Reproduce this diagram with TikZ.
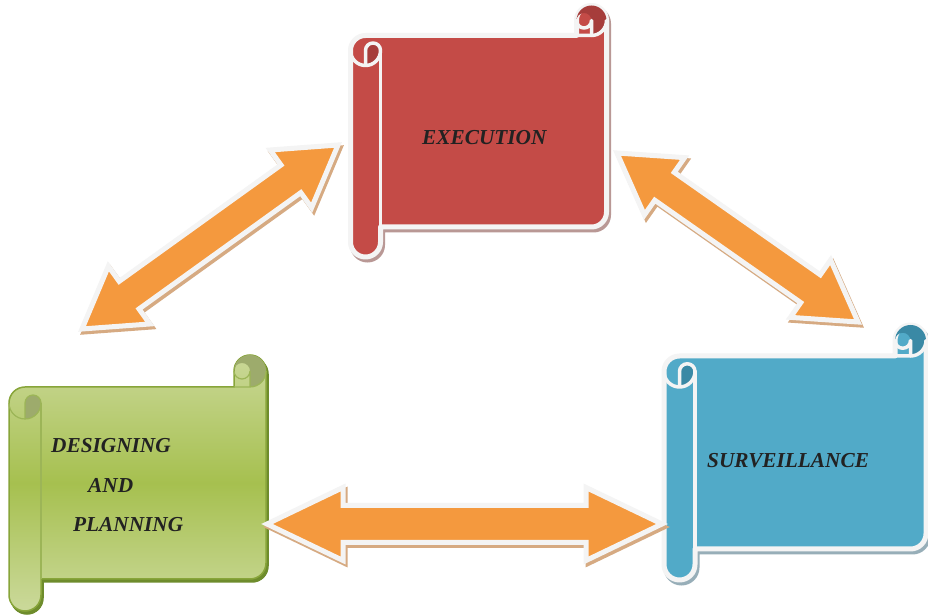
\documentclass[tikz,border=0pt]{standalone}
\usepackage{fontspec}
\setmainfont{Liberation Serif}
\usetikzlibrary{calc}

\definecolor{redmain}{HTML}{C44B47}
\definecolor{reddark}{HTML}{A63D3B}
\definecolor{redshade}{HTML}{B99895}
\definecolor{bluemain}{HTML}{51AAC8}
\definecolor{bluedark}{HTML}{3A89A5}
\definecolor{blueshade}{HTML}{97AEB8}
\definecolor{greentop}{HTML}{CBD99B}
\definecolor{greenmid}{HTML}{A6C04F}
\definecolor{greenbot}{HTML}{CAD898}
\definecolor{greendark}{HTML}{9DAB6C}
\definecolor{greenedge}{HTML}{88A53A}
\definecolor{greenshade}{HTML}{6E8C2C}
\definecolor{rim}{HTML}{F4F4F4}
\definecolor{arroworange}{HTML}{F4993E}
\definecolor{arrowshade}{HTML}{D6AA82}
\definecolor{labelink}{HTML}{222222}

\tikzset{
  red shadow/.style={fill=redshade, draw=redshade, line width=5pt},
  red body/.style={fill=redmain, draw=rim, line width=5pt, line join=round},
  red dark/.style={fill=reddark},
  red line/.style={draw=rim, line width=3.5pt, line cap=round, line join=round},
  blue shadow/.style={fill=blueshade, draw=blueshade, line width=5pt},
  blue body/.style={fill=bluemain, draw=rim, line width=5pt, line join=round},
  blue dark/.style={fill=bluedark},
  blue line/.style={draw=rim, line width=3.5pt, line cap=round, line join=round},
  green shadow/.style={fill=greenshade, draw=greenshade, line width=1.5pt},
  green body/.style={top color=greenbot, bottom color=greentop, middle color=greenmid,
                     draw=greenedge, line width=1.5pt},
  green dark/.style={fill=greendark},
  green line/.style={draw=greenedge!70!greentop, line width=1.2pt},
  arrow shadow/.style={fill=arrowshade, draw=arrowshade, line width=5pt},
  arrow body/.style={fill=arroworange, draw=rim, line width=5pt, line join=miter},
  label/.style={font=\fontsize{21.3}{25}\selectfont\bfseries\itshape, text=labelink,
                inner sep=0pt, anchor=base west},
}

% Scroll banner: #1 name, #2 left, #3 top, #4 right, #5 bottom (y measured downward),
% #6 roll size, #7 colour scheme
\newcommand\scrollbanner[7]{%
  \begin{scope}[shift={(#2,615-#3)}, yscale=-1]
    \pgfmathsetmacro\sW{#4-#2}\pgfmathsetmacro\sH{#5-#3}
    \pgfmathsetmacro\sc{#6}\pgfmathsetmacro\scb{#6/2}\pgfmathsetmacro\scd{#6/4}
    \pgfmathsetmacro\sxa{\sW-\sc}\pgfmathsetmacro\sxb{\sW-\scb}
    \pgfmathsetmacro\sya{1.5*\sc}\pgfmathsetmacro\syb{2*\sc}
    \pgfmathsetmacro\syc{\sH-1.5*\sc}\pgfmathsetmacro\syd{\sH-\sc}\pgfmathsetmacro\sye{\sH-\scb}
    \def\silhouette{(0,\sya) arc[start angle=180,end angle=270,radius=\scb]
      -- (\sxa,\sc) -- (\sxa,\scb) arc[start angle=180,end angle=360,radius=\scb]
      -- (\sW,\syc) arc[start angle=0,end angle=90,radius=\scb]
      -- (\sc,\syd) -- (\sc,\sye) arc[start angle=0,end angle=180,radius=\scb] -- cycle}
    \begin{scope}[shift={(2,3)}]
      \path[#7 shadow] \silhouette;
    \end{scope}
    \path[#7 body] \silhouette;
    % rolled-up ends
    \path[#7 dark] (\scb,\syb) arc[start angle=90,end angle=0,radius=\scb]
      arc[start angle=0,end angle=-180,radius=\scd] -- cycle;
    \path[#7 dark] (\sxb,\sc) arc[start angle=90,end angle=-180,radius=\scb]
      arc[start angle=180,end angle=360,radius=\scd] -- cycle;
    % curl outlines
    \path[#7 line] (\sxa,\sc) -- (\sxb,\sc) arc[start angle=90,end angle=0,radius=\scb];
    \path[#7 line] (\sxb,\sc) -- (\sxb,\scb) arc[start angle=0,end angle=180,radius=\scd];
    \path[#7 line] (\scb,\syb) -- (\scb,\sya) arc[start angle=180,end angle=360,radius=\scd]
      arc[start angle=0,end angle=180,radius=\scb];
    \path[#7 line] (\sc,\sya) -- (\sc,\syd);
    \coordinate (#1) at ({\sW/2},{\sH/2});
  \end{scope}%
}

% Double-headed block arrow between two named points:
% #1,#2 tips, #3 half shaft width, #4 half head width, #5 head length
\newcommand\blockarrow[5]{%
  \coordinate (ba-p) at ($(#1)!#5!(#2)$);
  \coordinate (ba-q) at ($(#2)!#5!(#1)$);
  \def\arrowoutline{(#1) -- ($(ba-p)!#4!90:(#2)$) -- ($(ba-p)!#3!90:(#2)$)
    -- ($(ba-q)!#3!-90:(#1)$) -- ($(ba-q)!#4!-90:(#1)$) -- (#2)
    -- ($(ba-q)!#4!90:(#1)$) -- ($(ba-q)!#3!90:(#1)$)
    -- ($(ba-p)!#3!-90:(#2)$) -- ($(ba-p)!#4!-90:(#2)$) -- cycle}
  \begin{scope}[transform canvas={xshift=2pt,yshift=-3pt}]
    \path[arrow shadow] \arrowoutline;
  \end{scope}
  \path[arrow body] \arrowoutline;
}

\begin{document}
\begin{tikzpicture}[x=1pt,y=1pt]
  \useasboundingbox (0,0) rectangle (928,615);
  \fill[white] (0,0) rectangle (928,615);

  % the three stages
  \scrollbanner{execution}{350.5}{5.5}{606.5}{257}{30}{red}
  \scrollbanner{surveillance}{664}{325}{926}{580}{31}{blue}
  \scrollbanner{designing}{9}{355}{266}{611}{32}{green}

  % arrow end points
  \coordinate (dp-top)   at (82,286);
  \coordinate (ex-left)  at (338,470);
  \coordinate (ex-right) at (617,462);
  \coordinate (sv-top)   at (858,293);
  \coordinate (dp-right) at (267,91);
  \coordinate (sv-left)  at (662,91);

  \blockarrow{dp-top}{ex-left}{17pt}{35.5pt}{58pt}
  \blockarrow{ex-right}{sv-top}{17pt}{35pt}{58pt}
  \blockarrow{dp-right}{sv-left}{18.5pt}{36.5pt}{76pt}

  % labels
  \node[label] (t-exec) at (422,470) {EXECUTION};
  \node[label] (t-surv) at (707,147) {SURVEILLANCE};
  \node[label] (t-des)  at (51,162) {DESIGNING};
  \node[label] (t-and)  at (88,122) {AND};
  \node[label] (t-plan) at (73,83) {PLANNING};
\end{tikzpicture}
\end{document}
